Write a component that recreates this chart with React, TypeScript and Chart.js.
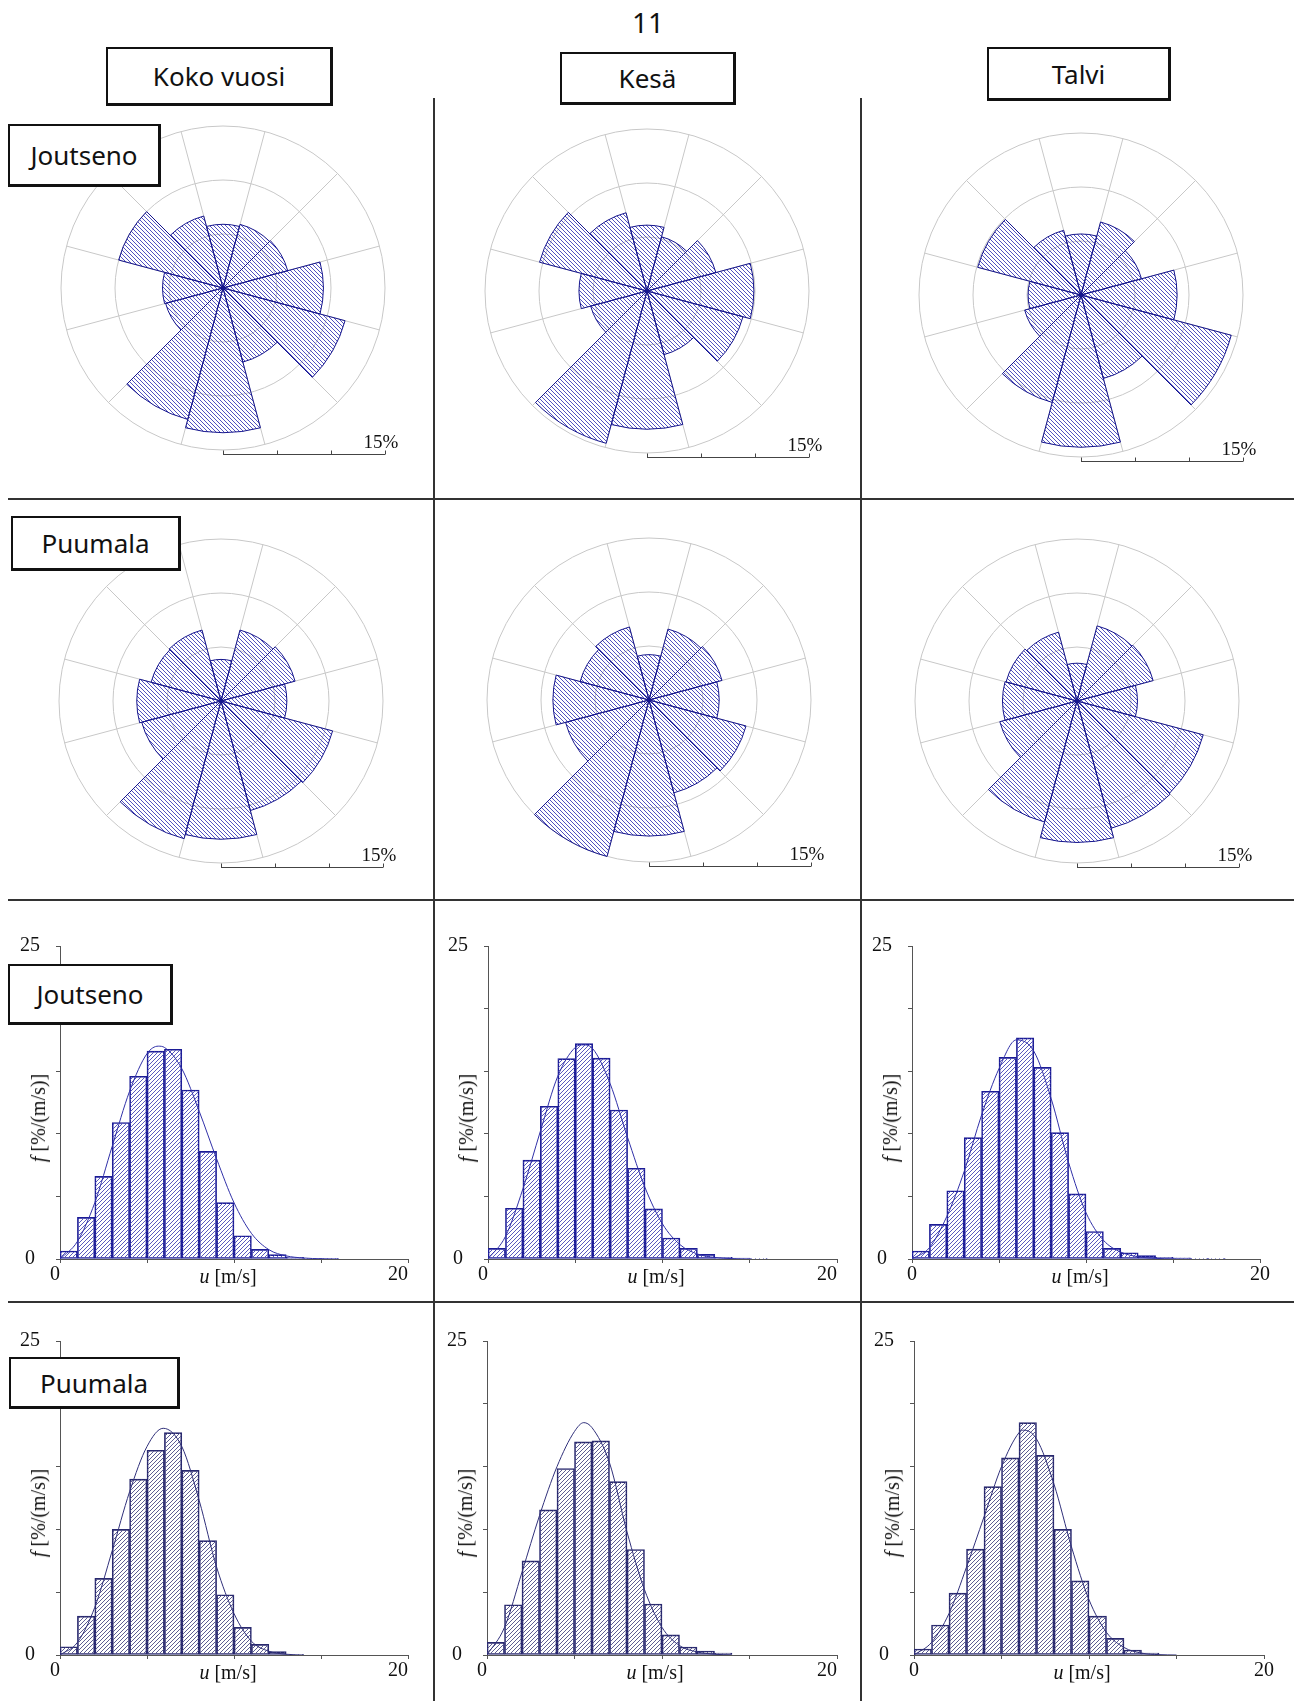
import React, { useEffect, useRef } from 'react';
import { Chart, registerables } from 'chart.js';

Chart.register(...registerables);

// ---------------- DATA ----------------
const DIRECTIONS = ['0°', '30°', '60°', '90°', '120°', '150°', '180°', '210°', '240°', '270°', '300°', '330°'];

// wind direction frequencies [%] (sector centred on each direction)
const ROSE_JOUTSENO_KOKO = [5.9, 6.1, 6.2, 9.3, 11.7, 7.1, 13.4, 12.6, 5.5, 5.6, 10.0, 6.9];
const ROSE_JOUTSENO_KESA = [6.1, 5.2, 6.6, 9.9, 9.2, 6.1, 12.8, 14.6, 5.4, 6.3, 10.3, 7.5];
const ROSE_JOUTSENO_TALVI = [5.65, 7.0, 5.8, 8.9, 14.4, 8.0, 14.1, 10.3, 5.4, 4.9, 9.9, 6.2];
const ROSE_PUUMALA_KOKO = [3.85, 6.8, 7.1, 6.1, 10.7, 10.5, 12.8, 13.2, 7.6, 7.8, 6.7, 6.8];
const ROSE_PUUMALA_KESA = [4.2, 6.8, 7.0, 6.5, 9.3, 8.9, 12.6, 15.0, 8.0, 8.9, 6.6, 7.0];
const ROSE_PUUMALA_TALVI = [3.5, 7.2, 7.3, 5.6, 12.1, 12.2, 13.1, 11.6, 7.4, 6.9, 6.8, 6.6];
const ROSE_MAX = 15;
const ROSE_STEP = 5;

// wind speed histograms, bins of 1 m/s, f [%/(m/s)]
const SPEED_BINS = [0.5, 1.5, 2.5, 3.5, 4.5, 5.5, 6.5, 7.5, 8.5, 9.5, 10.5, 11.5, 12.5, 13.5, 14.5, 15.5, 16.5, 17.5];

const HIST_JOUTSENO_KOKO = [0.64, 3.33, 6.6, 10.9, 14.6, 16.6, 16.75, 13.5, 8.6, 4.5, 1.86, 0.77, 0.35, 0.13, 0.05, 0.02];
const FIT_JOUTSENO_KOKO_U = [0, 1, 2, 3, 4, 5, 5.65, 6, 7, 8, 9, 10, 11, 12, 13, 14, 15, 16];
const FIT_JOUTSENO_KOKO_F = [0, 1.4, 4.5, 9.0, 13.4, 16.4, 17.0, 16.9, 15.2, 11.8, 8.0, 4.5, 2.05, 0.75, 0.25, 0.08, 0.02, 0];

const HIST_JOUTSENO_KESA = [0.85, 4.05, 7.9, 12.2, 16.0, 17.2, 16.05, 11.9, 7.25, 4.0, 1.68, 0.85, 0.37, 0.13, 0.08, 0.03];
const FIT_JOUTSENO_KESA_U = [0, 1, 2, 3, 4, 5, 5.45, 6, 7, 8, 9, 10, 11, 12, 13, 14, 15];
const FIT_JOUTSENO_KESA_F = [0, 1.8, 5.6, 10.2, 14.6, 16.9, 17.1, 16.8, 14.0, 9.7, 5.7, 2.8, 1.15, 0.4, 0.12, 0.03, 0];

const HIST_JOUTSENO_TALVI = [0.64, 2.77, 5.45, 9.7, 13.4, 16.1, 17.66, 15.3, 10.1, 5.2, 2.2, 0.85, 0.5, 0.27, 0.13, 0.1, 0.05, 0.03];
const FIT_JOUTSENO_TALVI_U = [0, 1, 2, 3, 4, 5, 6, 7, 8, 9, 10, 11, 12, 13, 14, 15, 16];
const FIT_JOUTSENO_TALVI_F = [0, 0.9, 3.4, 7.0, 11.5, 15.2, 17.5, 16.6, 12.8, 7.7, 3.7, 1.5, 0.55, 0.18, 0.05, 0.01, 0];

const HIST_PUUMALA_KOKO = [0.66, 3.1, 6.1, 10.0, 14.0, 16.3, 17.7, 14.7, 9.1, 4.8, 2.2, 0.85, 0.27, 0.05];
const FIT_PUUMALA_KOKO_U = [0, 1, 2, 3, 4, 5, 5.93, 7, 8, 9, 10, 11, 12, 13, 14];
const FIT_PUUMALA_KOKO_F = [0, 1.0, 3.8, 8.3, 13.0, 16.6, 18.05, 16.6, 12.3, 7.0, 3.3, 1.1, 0.3, 0.06, 0];

const HIST_PUUMALA_KESA = [1.0, 4.0, 7.5, 11.56, 14.85, 16.97, 17.05, 13.8, 8.4, 4.06, 1.6, 0.64, 0.32, 0.16];
const FIT_PUUMALA_KESA_U = [0, 1, 2, 3, 4, 5, 5.53, 6, 7, 8, 9, 10, 11, 12, 13, 14];
const FIT_PUUMALA_KESA_F = [0, 2.2, 6.6, 11.1, 15.0, 17.8, 18.5, 18.1, 15.3, 9.8, 5.2, 2.2, 0.75, 0.25, 0.06, 0];

const HIST_PUUMALA_TALVI = [0.48, 2.39, 4.93, 8.43, 13.4, 15.7, 18.5, 15.9, 10.0, 5.9, 3.1, 1.33, 0.4, 0.16];
const FIT_PUUMALA_TALVI_U = [0, 1, 2, 3, 4, 5, 6, 6.26, 7, 8, 9, 10, 11, 12, 13, 14, 15];
const FIT_PUUMALA_TALVI_F = [0, 1.0, 3.3, 7.0, 11.0, 15.0, 17.7, 17.9, 17.2, 13.6, 8.6, 4.4, 1.8, 0.6, 0.15, 0.03, 0];

const HIST_X_MIN = 0;
const HIST_X_MAX = 20;
const HIST_X_STEP = 5;
const HIST_Y_MIN = 0;
const HIST_Y_MAX = 25;
const HIST_Y_STEP = 5;

// ---------------- STYLE ----------------
const SERIF = '"Liberation Serif", "Times New Roman", serif';
const SANS = '"Noto Sans", "DejaVu Sans", sans-serif';
const ROSE_EDGE = '#15158c';
const ROSE_HATCH = '#5252c0';
const GRID = '#c8c8c8';

function makeHatch(color: string, dir: 'back' | 'fwd', size: number, lw: number): any {
  const c = document.createElement('canvas');
  c.width = size;
  c.height = size;
  const g = c.getContext('2d');
  if (!g) return color;
  g.strokeStyle = color;
  g.lineWidth = lw;
  g.beginPath();
  for (const off of [-size, 0, size]) {
    if (dir === 'back') {
      g.moveTo(off - 1, -1);
      g.lineTo(off + size + 1, size + 1);
    } else {
      g.moveTo(off - 1, size + 1);
      g.lineTo(off + size + 1, -1);
    }
  }
  g.stroke();
  const p = g.createPattern(c, 'repeat');
  return p || color;
}

const scaleBarPlugin = {
  id: 'roseScaleBar',
  afterDraw(chart: any) {
    const r = chart.scales.r;
    if (!r) return;
    const ctx = chart.ctx;
    const cx = r.xCenter;
    const cy = r.yCenter;
    const yb = Math.round(cy + r.drawingArea + 4) + 0.5;
    const xe = cx + r.getDistanceFromCenterForValue(r.max);
    ctx.save();
    ctx.strokeStyle = '#444';
    ctx.lineWidth = 1;
    ctx.beginPath();
    ctx.moveTo(cx, yb);
    ctx.lineTo(xe, yb);
    for (const t of r.ticks) {
      const x = Math.round(cx + r.getDistanceFromCenterForValue(t.value)) + 0.5;
      ctx.moveTo(x, yb);
      ctx.lineTo(x, yb - 4);
    }
    ctx.stroke();
    ctx.fillStyle = '#111';
    ctx.font = `19px ${SERIF}`;
    ctx.textAlign = 'center';
    ctx.textBaseline = 'alphabetic';
    ctx.fillText(`${r.max}%`, xe - 4, yb - 7);
    ctx.restore();
  },
};

// ---------------- COMPONENTS ----------------
const R_PAD = 5;
const R_PAD_X = 24;
const R_SIZE = 325;

function RoseChart({ values, cx, cy }: { values: number[]; cx: number; cy: number }) {
  const ref = useRef<HTMLCanvasElement>(null);
  useEffect(() => {
    const canvas = ref.current;
    if (!canvas) return;
    const hatch = makeHatch(ROSE_HATCH, 'back', 4, 1);
    const chart = new Chart(canvas, {
      type: 'polarArea',
      data: {
        labels: DIRECTIONS,
        datasets: [
          {
            data: values,
            backgroundColor: hatch,
            borderColor: ROSE_EDGE,
            borderWidth: 1,
          },
        ],
      },
      options: {
        responsive: false,
        animation: false,
        layout: { padding: { left: R_PAD_X, right: R_PAD_X, top: R_PAD, bottom: 40 } },
        plugins: { legend: { display: false }, tooltip: { enabled: false } },
        scales: {
          r: {
            min: 0,
            max: ROSE_MAX,
            startAngle: -15,
            ticks: { display: false, stepSize: ROSE_STEP },
            grid: { circular: true, color: GRID, lineWidth: 1 },
            angleLines: { display: true, color: GRID, lineWidth: 1 },
            pointLabels: { display: false },
          },
        },
      } as any,
      plugins: [scaleBarPlugin],
    });
    return () => chart.destroy();
  }, [values]);
  const w = R_SIZE + 2 * R_PAD_X;
  const h = R_SIZE + R_PAD + 40;
  const offX = Math.floor(R_SIZE / 2 + R_PAD_X);
  const offY = Math.floor(R_SIZE / 2 + R_PAD);
  return (
    <canvas
      ref={ref}
      width={w}
      height={h}
      style={{ position: 'absolute', left: cx - offX, top: cy - offY, width: w, height: h }}
    />
  );
}

const H_L = 44;
const H_T = 32;
const H_R = 16;
const H_B = 34;

function HistChart(props: {
  bars: number[];
  fitU: number[];
  fitF: number[];
  x0: number;
  x20: number;
  y25: number;
  y0: number;
  align: 'center' | 'end';
  edge: string;
  hatchColor: string;
  curve: string;
}) {
  const { bars, fitU, fitF, x0, x20, y25, y0, align, edge, hatchColor, curve } = props;
  const ref = useRef<HTMLCanvasElement>(null);
  useEffect(() => {
    const canvas = ref.current;
    if (!canvas) return;
    const hatch = makeHatch(hatchColor, 'fwd', 4, 1);
    const font = { family: SERIF, size: 20 };
    const chart = new Chart(canvas, {
      type: 'bar',
      data: {
        datasets: [
          {
            type: 'line',
            data: fitU.map((u, i) => ({ x: u, y: fitF[i] })),
            borderColor: curve,
            borderWidth: 1,
            pointRadius: 0,
            cubicInterpolationMode: 'monotone',
            fill: false,
            order: 1,
          },
          {
            type: 'bar',
            data: bars.map((f, i) => ({ x: SPEED_BINS[i], y: f })),
            backgroundColor: hatch,
            borderColor: edge,
            borderWidth: 1,
            borderSkipped: false,
            barPercentage: 1,
            categoryPercentage: 1,
            order: 2,
          },
        ],
      } as any,
      options: {
        responsive: false,
        animation: false,
        layout: { padding: { top: H_T, right: H_R, left: 0, bottom: 0 } },
        plugins: { legend: { display: false }, tooltip: { enabled: false } },
        scales: {
          x: {
            type: 'linear',
            min: HIST_X_MIN,
            max: HIST_X_MAX,
            offset: false,
            afterFit: (s: any) => {
              s.height = H_B;
            },
            ticks: {
              stepSize: HIST_X_STEP,
              autoSkip: false,
              maxRotation: 0,
              padding: 0,
              align,
              font,
              color: '#111',
              callback: (v: any) => (v === HIST_X_MIN || v === HIST_X_MAX ? String(v) : ''),
            },
            grid: { display: true, drawOnChartArea: false, drawTicks: true, tickLength: 4, tickColor: '#555', offset: false },
            border: { display: true, color: '#555' },
          },
          y: {
            type: 'linear',
            min: HIST_Y_MIN,
            max: HIST_Y_MAX,
            afterFit: (s: any) => {
              s.width = H_L;
            },
            ticks: {
              stepSize: HIST_Y_STEP,
              padding: 16,
              crossAlign: 'center',
              font,
              color: '#111',
              callback: (v: any) => (v === HIST_Y_MIN || v === HIST_Y_MAX ? String(v) : ''),
            },
            grid: { display: true, drawOnChartArea: false, drawTicks: true, tickLength: 4, tickColor: '#555' },
            border: { display: true, color: '#555' },
          },
        },
      } as any,
    });
    return () => chart.destroy();
  }, [bars, fitU, fitF]);
  const w = H_L + (x20 - x0) + H_R;
  const h = H_T + (y0 - y25) + H_B;
  return (
    <>
      <canvas
        ref={ref}
        width={w}
        height={h}
        style={{ position: 'absolute', left: x0 - H_L, top: y25 - H_T, width: w, height: h }}
      />
      <div
        style={{
          position: 'absolute',
          left: x0 - 22,
          top: (y25 + y0) / 2 + 15,
          transform: 'translate(-50%, -50%) rotate(-90deg)',
          whiteSpace: 'nowrap',
          fontFamily: SERIF,
          fontSize: 20,
          lineHeight: 1,
          color: '#111',
        }}
      >
        <i>f</i> [%/(m/s)]
      </div>
      <div
        style={{
          position: 'absolute',
          left: x0 + 168,
          top: y0 + 17,
          transform: 'translate(-50%, -50%)',
          whiteSpace: 'nowrap',
          fontFamily: SERIF,
          fontSize: 20,
          lineHeight: 1,
          color: '#111',
        }}
      >
        <i>u</i> [m/s]
      </div>
    </>
  );
}

function Box({ l, t, w, h, text, size }: { l: number; t: number; w: number; h: number; text: string; size: number }) {
  return (
    <div
      style={{
        position: 'absolute',
        left: l,
        top: t,
        width: w,
        height: h,
        boxSizing: 'border-box',
        border: '2px solid #111',
        borderRightWidth: 3,
        borderBottomWidth: 3,
        background: '#fff',
        display: 'flex',
        alignItems: 'center',
        justifyContent: 'center',
        fontFamily: SANS,
        fontSize: size,
        lineHeight: 1,
        color: '#111',
        zIndex: 3,
      }}
    >
      {text}
    </div>
  );
}

const lineStyle = (l: number, t: number, w: number, h: number): React.CSSProperties => ({
  position: 'absolute',
  left: l,
  top: t,
  width: w,
  height: h,
  background: '#333',
  zIndex: 2,
});

export default function App() {
  const row3 = { edge: '#1c1c96', hatchColor: '#5a5abe', curve: '#3030a8' };
  const row4 = { edge: '#28286e', hatchColor: '#5e5e92', curve: '#30307a' };
  return (
    <div
      style={{
        position: 'absolute',
        left: 0,
        top: 0,
        width: 1298,
        height: 1701,
        background: '#fff',
        overflow: 'hidden',
      }}
    >
      <RoseChart values={ROSE_JOUTSENO_KOKO} cx={223} cy={288} />
      <RoseChart values={ROSE_JOUTSENO_KESA} cx={647} cy={291} />
      <RoseChart values={ROSE_JOUTSENO_TALVI} cx={1081} cy={295} />
      <RoseChart values={ROSE_PUUMALA_KOKO} cx={221} cy={701} />
      <RoseChart values={ROSE_PUUMALA_KESA} cx={649} cy={700} />
      <RoseChart values={ROSE_PUUMALA_TALVI} cx={1077} cy={701} />

      <HistChart bars={HIST_JOUTSENO_KOKO} fitU={FIT_JOUTSENO_KOKO_U} fitF={FIT_JOUTSENO_KOKO_F} x0={60} x20={408} y25={946} y0={1259} align="end" {...row3} />
      <HistChart bars={HIST_JOUTSENO_KESA} fitU={FIT_JOUTSENO_KESA_U} fitF={FIT_JOUTSENO_KESA_F} x0={488} x20={837} y25={946} y0={1259} align="end" {...row3} />
      <HistChart bars={HIST_JOUTSENO_TALVI} fitU={FIT_JOUTSENO_TALVI_U} fitF={FIT_JOUTSENO_TALVI_F} x0={912} x20={1260} y25={946} y0={1259} align="center" {...row3} />
      <HistChart bars={HIST_PUUMALA_KOKO} fitU={FIT_PUUMALA_KOKO_U} fitF={FIT_PUUMALA_KOKO_F} x0={60} x20={408} y25={1341} y0={1655} align="end" {...row4} />
      <HistChart bars={HIST_PUUMALA_KESA} fitU={FIT_PUUMALA_KESA_U} fitF={FIT_PUUMALA_KESA_F} x0={487} x20={837} y25={1341} y0={1655} align="end" {...row4} />
      <HistChart bars={HIST_PUUMALA_TALVI} fitU={FIT_PUUMALA_TALVI_U} fitF={FIT_PUUMALA_TALVI_F} x0={914} x20={1264} y25={1341} y0={1655} align="center" {...row4} />

      {/* grid separators */}
      <div style={lineStyle(8, 498, 1286, 2)} />
      <div style={lineStyle(8, 899, 1286, 2)} />
      <div style={lineStyle(8, 1301, 1286, 2)} />
      <div style={lineStyle(433, 98, 2, 1603)} />
      <div style={lineStyle(860, 98, 2, 1603)} />

      {/* page number */}
      <div
        style={{
          position: 'absolute',
          left: 648,
          top: 22,
          transform: 'translate(-50%, -50%)',
          fontFamily: SANS,
          fontSize: 28,
          lineHeight: 1,
          color: '#111',
        }}
      >
        11
      </div>

      {/* column headers */}
      <Box l={106} t={47} w={227} h={59} text="Koko vuosi" size={26} />
      <Box l={560} t={52} w={176} h={53} text="Kesä" size={26} />
      <Box l={987} t={47} w={184} h={54} text="Talvi" size={26} />

      {/* station labels */}
      <Box l={8} t={124} w={153} h={63} text="Joutseno" size={26} />
      <Box l={11} t={516} w={170} h={55} text="Puumala" size={26} />
      <Box l={8} t={964} w={165} h={61} text="Joutseno" size={26} />
      <Box l={9} t={1357} w={171} h={52} text="Puumala" size={26} />
    </div>
  );
}
